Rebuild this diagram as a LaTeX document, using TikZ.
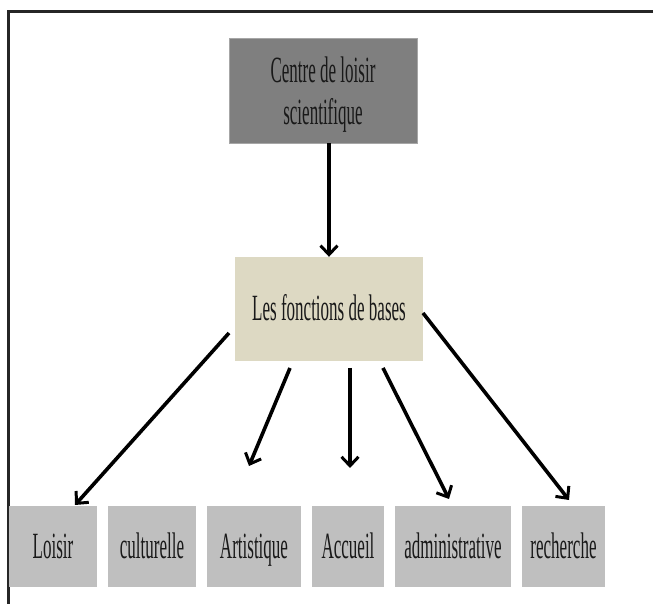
\documentclass[tikz,border=0pt]{standalone}
\usepackage{fontspec}
\setmainfont[FakeStretch=0.46]{Liberation Serif}
\usetikzlibrary{arrows.meta}
\definecolor{topgray}{HTML}{7F7F7F}
\definecolor{beige}{HTML}{DDD9C3}
\definecolor{boxgray}{HTML}{BFBFBF}
\begin{document}
\begin{tikzpicture}[x=1pt,y=1pt,
  lbl/.style={inner sep=0pt, font=\fontsize{37}{42}\selectfont, text=black!90, text height=24pt, text depth=0pt},
  topbox/.style={lbl, align=center, text height=69pt, text depth=0pt, fill=topgray, draw=gray!70, line width=0.6pt},
  midbox/.style={lbl, fill=beige},
  botbox/.style={lbl, fill=boxgray, minimum height=81pt},
  arr/.style={line width=3.6pt, -{Straight Barb[length=9pt,width=17pt,line width=3pt]}},
  frame/.style={line width=3pt, black!85}]
\useasboundingbox (0,0) rectangle (654,604);
% frame
\coordinate (ftl) at (8,592);
\coordinate (ftr) at (653,592);
\coordinate (fbl) at (8,0);
\draw[frame] (ftr) -- (ftl) -- (fbl);
% nodes
\node[topbox, minimum width=188pt, minimum height=105pt] (top) at (323,513.5) {Centre de loisir\\scientifique};
\node[midbox, minimum width=188pt, minimum height=104pt] (mid) at (329,295) {Les fonctions de bases};
\node[botbox, minimum width=88pt] (b1) at (53,57.5) {Loisir};
\node[botbox, minimum width=88pt] (b2) at (152,57.5) {culturelle};
\node[botbox, minimum width=94pt] (b3) at (254,57.5) {Artistique};
\node[botbox, minimum width=72pt] (b4) at (348,57.5) {Accueil};
\node[botbox, minimum width=116pt] (b5) at (453,57.5) {administrative};
\node[botbox, minimum width=83pt] (b6) at (563.5,57.5) {recherche};
% connector end points
\coordinate (s1) at (229,271);
\coordinate (t1) at (75,99);
\coordinate (s3) at (290,236);
\coordinate (t3) at (249,138);
\coordinate (s4) at (350,236);
\coordinate (t4) at (350,136);
\coordinate (s5) at (383,236);
\coordinate (t5) at (449,105);
\coordinate (s6) at (423,291);
\coordinate (t6) at (569,104);
% connectors
\draw[arr] (top.south -| mid.north) -- (mid.north);
\draw[arr] (s1) -- (t1);
\draw[arr] (s3) -- (t3);
\draw[arr] (s4) -- (t4);
\draw[arr] (s5) -- (t5);
\draw[arr] (s6) -- (t6);
\end{tikzpicture}
\end{document}
